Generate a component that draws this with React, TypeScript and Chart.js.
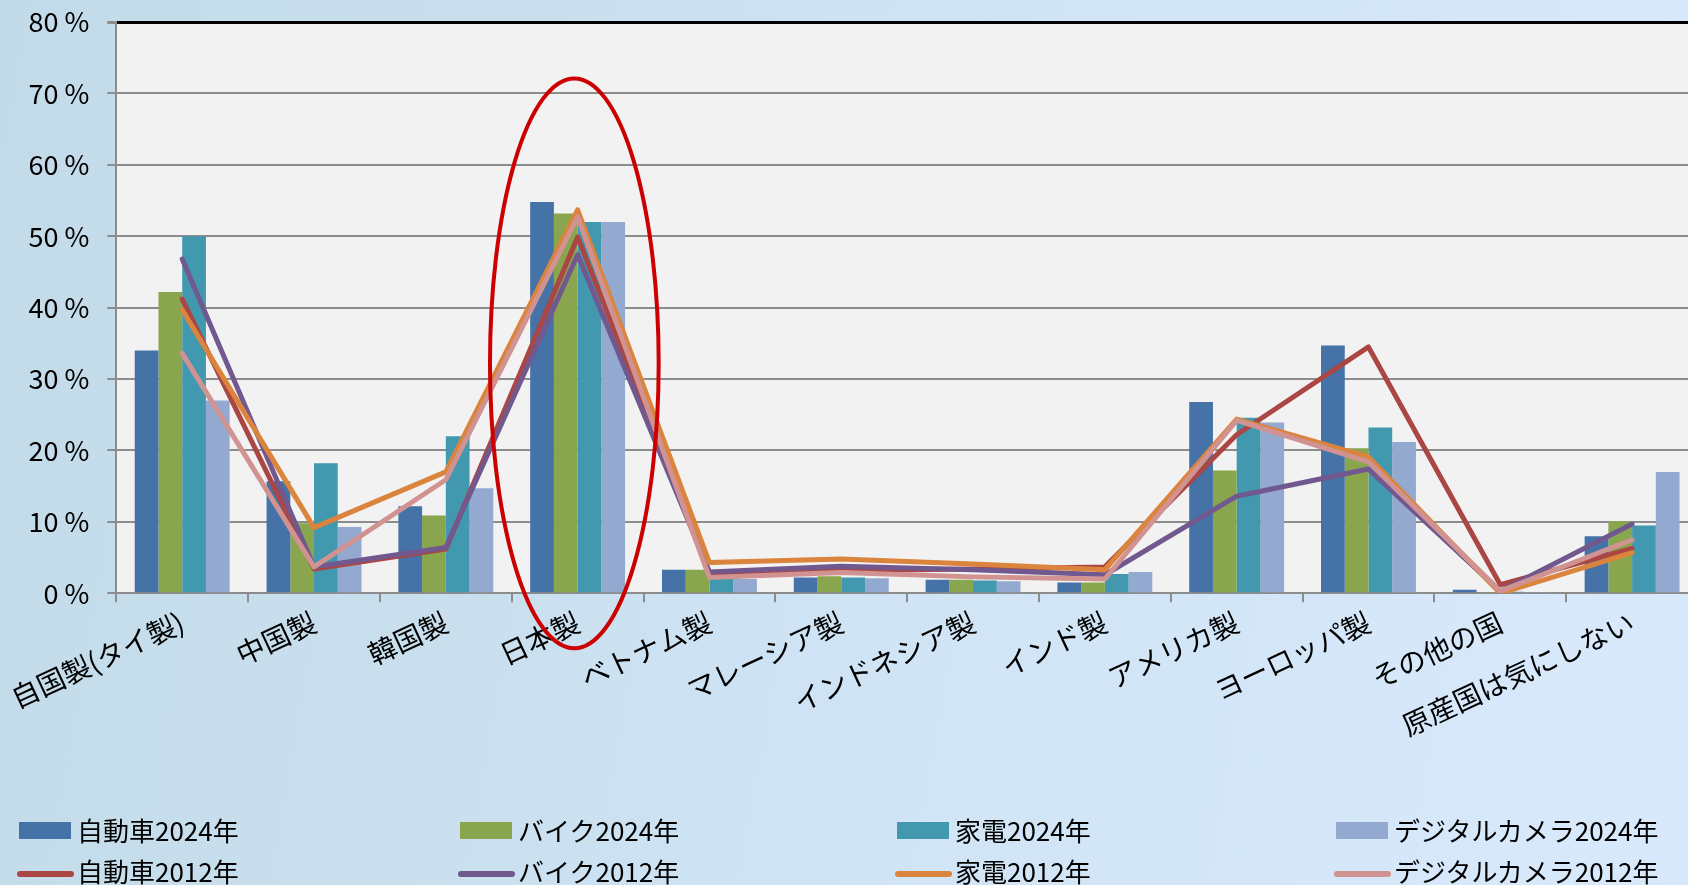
import React, { useEffect, useRef } from 'react';
import { Chart, registerables } from 'chart.js';

Chart.register(...registerables);

const FONT = "'Noto Sans CJK JP', 'Noto Sans', sans-serif";

const categories = [
  '自国製(タイ製)',
  '中国製',
  '韓国製',
  '日本製',
  'ベトナム製',
  'マレーシア製',
  'インドネシア製',
  'インド製',
  'アメリカ製',
  'ヨーロッパ製',
  'その他の国',
  '原産国は気にしない',
];

// 2024 survey (bars), percent
const car2024 = [34.0, 15.7, 12.2, 54.8, 3.3, 2.2, 1.9, 1.5, 26.8, 34.7, 0.5, 8.0];
const bike2024 = [42.2, 9.8, 10.9, 53.2, 3.3, 2.4, 1.9, 1.5, 17.2, 20.3, 0.1, 10.1];
const appliance2024 = [50.0, 18.2, 22.0, 52.0, 2.5, 2.2, 1.8, 2.7, 24.6, 23.2, 0.2, 9.5];
const camera2024 = [27.0, 9.3, 14.7, 52.0, 2.0, 2.1, 1.7, 3.0, 23.9, 21.2, 0.1, 17.0];

// 2012 survey (lines), percent
const car2012 = [41.2, 3.4, 6.2, 49.9, 2.8, 3.2, 3.4, 3.7, 22.2, 34.5, 1.2, 6.3];
const bike2012 = [46.8, 3.7, 6.4, 47.4, 3.0, 3.8, 3.3, 2.6, 13.6, 17.4, 0.3, 9.7];
const appliance2012 = [39.7, 9.2, 17.0, 53.7, 4.3, 4.8, 4.1, 3.3, 24.4, 19.1, 0.0, 5.7];
const camera2012 = [33.6, 3.7, 15.9, 52.7, 2.2, 2.9, 2.3, 2.0, 24.2, 18.4, 0.3, 7.5];

const yMin = 0;
const yMax = 80;
const yStep = 10;

const barSeries = [
  { label: '自動車2024年', color: '#4572A7', data: car2024 },
  { label: 'バイク2024年', color: '#89A54E', data: bike2024 },
  { label: '家電2024年', color: '#4198AF', data: appliance2024 },
  { label: 'デジタルカメラ2024年', color: '#93A9CF', data: camera2024 },
];

const lineSeries = [
  { label: '自動車2012年', color: '#AA4643', data: car2012 },
  { label: 'バイク2012年', color: '#71588F', data: bike2012 },
  { label: '家電2012年', color: '#DB843D', data: appliance2012 },
  { label: 'デジタルカメラ2012年', color: '#D19392', data: camera2012 },
];

// red highlight ellipse around 日本製 (in data units)
const highlight = { category: 3, shift: -0.025, halfWidth: 0.64, top: 72.1, bottom: -7.7, color: '#CC0000' };

const CANVAS_W = 1698;
const CANVAS_H = 885;
const PLOT_LEFT = 116.3;
const PAD_TOP = 22;
const PLOT_BOTTOM = 593.3;

const legendCols = [19, 460, 897, 1336];
const legendRows = [829.5, 873.5];

const plotBg = {
  id: 'plotBg',
  beforeDraw(chart: any) {
    const { ctx, chartArea } = chart;
    ctx.save();
    ctx.fillStyle = '#F2F2F2';
    ctx.fillRect(chartArea.left, chartArea.top, chartArea.right - chartArea.left, chartArea.bottom - chartArea.top);
    ctx.restore();
  },
};

const ellipsePlugin = {
  id: 'ellipse',
  afterDraw(chart: any) {
    const { ctx } = chart;
    const xs = chart.scales.x;
    const ys = chart.scales.y;
    const cw = xs.getPixelForValue(1) - xs.getPixelForValue(0);
    const cx = xs.getPixelForValue(highlight.category) + highlight.shift * cw;
    const yTop = ys.getPixelForValue(highlight.top);
    const yBot = ys.getPixelForValue(highlight.bottom);
    ctx.save();
    ctx.beginPath();
    ctx.ellipse(cx, (yTop + yBot) / 2, highlight.halfWidth * cw, (yBot - yTop) / 2, 0, 0, Math.PI * 2);
    ctx.strokeStyle = highlight.color;
    ctx.lineWidth = 4;
    ctx.stroke();
    ctx.restore();
  },
};

export default function App() {
  const ref = useRef<HTMLCanvasElement>(null);

  useEffect(() => {
    if (!ref.current) return;
    const datasets: any[] = [];
    barSeries.forEach((s, i) => {
      datasets.push({
        type: 'bar',
        label: s.label,
        data: s.data,
        backgroundColor: s.color,
        borderWidth: 0,
        categoryPercentage: 0.72,
        barPercentage: 1.0,
        order: 10 + i,
      });
    });
    lineSeries.forEach((s, i) => {
      datasets.push({
        type: 'line',
        label: s.label,
        data: s.data,
        borderColor: s.color,
        backgroundColor: s.color,
        borderWidth: 5,
        pointRadius: 0,
        tension: 0,
        borderJoinStyle: 'round',
        borderCapStyle: 'round',
        order: 4 - i,
      });
    });

    const chart = new Chart(ref.current, {
      type: 'bar',
      data: { labels: categories, datasets },
      options: {
        responsive: false,
        animation: false,
        events: [],
        layout: { padding: { top: PAD_TOP, left: 0, right: 0, bottom: 0 } },
        plugins: {
          legend: { display: false },
          tooltip: { enabled: false },
        },
        scales: {
          x: {
            offset: true,
            grid: {
              display: true,
              offset: true,
              drawOnChartArea: false,
              drawTicks: true,
              tickLength: 9,
              color: '#8C8C8C',
              lineWidth: 2,
            },
            border: { display: true, color: '#8C8C8C', width: 2 },
            ticks: {
              autoSkip: false,
              minRotation: 25,
              maxRotation: 25,
              padding: 3,
              color: '#000',
              font: { family: FONT, size: 28 },
            },
            afterFit(scale: any) {
              scale.height = CANVAS_H - PLOT_BOTTOM;
              scale.paddingLeft = 0;
              scale.paddingRight = 0;
            },
          },
          y: {
            min: yMin,
            max: yMax,
            ticks: {
              stepSize: yStep,
              padding: 18,
              color: '#000',
              font: { family: FONT, size: 27 },
              callback: (v: any) => `${v} %`,
            },
            grid: {
              color: (c: any) => (c.tick && c.tick.value === yMax ? '#000000' : '#8C8C8C'),
              lineWidth: (c: any) => (c.tick && c.tick.value === yMax ? 3 : 2),
              tickColor: '#8C8C8C',
              tickLength: 9,
              drawTicks: true,
            },
            border: { display: true, color: '#8C8C8C', width: 2 },
            afterFit(scale: any) {
              scale.width = PLOT_LEFT;
              scale.paddingTop = 0;
              scale.paddingBottom = 0;
            },
          },
        },
      },
      plugins: [plotBg, ellipsePlugin],
    } as any);
    return () => chart.destroy();
  }, []);

  const legendItems: any[] = [];
  barSeries.forEach((s, i) => {
    legendItems.push(
      <div
        key={'b' + i}
        style={{
          position: 'absolute',
          left: legendCols[i],
          top: legendRows[0] - 20,
          height: 40,
          display: 'flex',
          alignItems: 'center',
          whiteSpace: 'nowrap',
        }}
      >
        <span style={{ display: 'inline-block', width: 52, height: 17, background: s.color, marginRight: 6, marginTop: 2 }} />
        <span style={{ fontFamily: FONT, fontSize: 26, color: '#000', lineHeight: '40px' }}>{s.label}</span>
      </div>
    );
  });
  lineSeries.forEach((s, i) => {
    legendItems.push(
      <div
        key={'l' + i}
        style={{
          position: 'absolute',
          left: legendCols[i] - 2,
          top: legendRows[1] - 20,
          height: 40,
          display: 'flex',
          alignItems: 'center',
          whiteSpace: 'nowrap',
        }}
      >
        <span style={{ display: 'inline-block', width: 57, height: 6, borderRadius: 3, background: s.color, marginRight: 3 }} />
        <span style={{ fontFamily: FONT, fontSize: 26, color: '#000', lineHeight: '40px', marginTop: -6 }}>{s.label}</span>
      </div>
    );
  });

  return (
    <div
      style={{
        position: 'fixed',
        left: 0,
        top: 0,
        width: 1688,
        height: 885,
        overflow: 'hidden',
        background:
          'linear-gradient(180deg, rgba(255,255,255,0) 0px, rgba(255,255,255,0) 885px), linear-gradient(100deg, #C3DBE9 0%, #C9DFEE 30%, #D1E5F6 60%, #D8E9FB 100%)',
      }}
    >
      <canvas ref={ref} width={CANVAS_W} height={CANVAS_H} style={{ position: 'absolute', left: 0, top: 0 }} />
      {legendItems}
    </div>
  );
}
